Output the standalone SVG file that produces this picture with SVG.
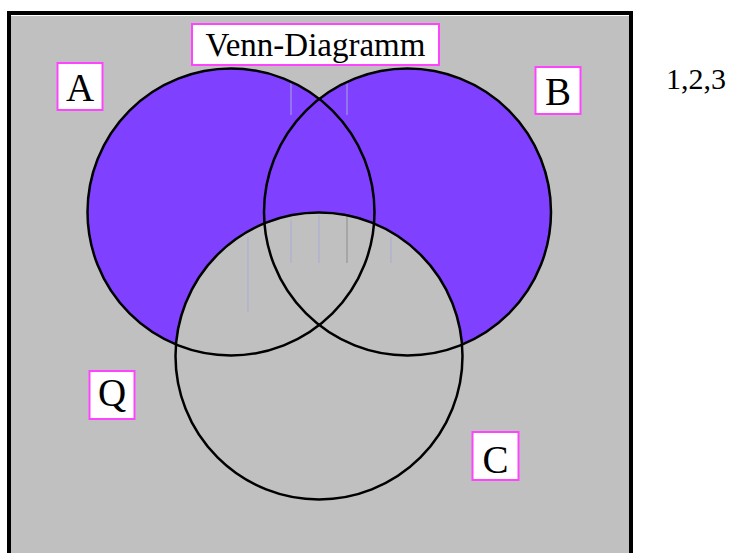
<svg xmlns="http://www.w3.org/2000/svg" width="731" height="553" viewBox="0 0 731 553">
  <style>
    .set { fill: #8040ff; }
    .ring { fill: none; stroke: #000; stroke-width: 2.5; }
    .label rect { fill: #fff; stroke: #ff44ff; stroke-width: 2; }
    .serif { font-family: "Liberation Serif", "Times New Roman", serif; fill: #000; text-anchor: middle; }
    .tick { stroke: #a9a9d6; stroke-width: 1; }
  </style>

  <!-- page frame -->
  <rect x="0" y="0" width="731" height="553" fill="#fff"/>
  <rect x="7" y="11" width="626" height="560" fill="#000"/>
  <rect x="11" y="15" width="618" height="560" fill="#fff"/>
  <rect x="11" y="16" width="618" height="560" fill="#c0c0c0"/>

  <!-- shaded sets: A and B without C -->
  <g id="fill">
    <circle class="set" cx="231" cy="212" r="143.5"/>
    <circle class="set" cx="407.5" cy="212" r="143.5"/>
    <circle cx="319" cy="356" r="143.5" fill="#c0c0c0"/>
  </g>

  <!-- faint hatching marks -->
  <g id="marks">
    <line class="tick" x1="291" y1="82" x2="291" y2="115"/>
    <line class="tick" x1="347" y1="82" x2="347" y2="115"/>
    <line class="tick" x1="248" y1="237" x2="248" y2="312"/>
    <line class="tick" x1="291" y1="220" x2="291" y2="263"/>
    <line class="tick" x1="319" y1="215" x2="319" y2="263"/>
    <line x1="347" y1="213" x2="347" y2="263" stroke="#8c8c8c" stroke-width="1"/>
    <line class="tick" x1="391" y1="237" x2="391" y2="263"/>
  </g>

  <!-- set outlines -->
  <g id="circle-A"><circle class="ring" cx="231" cy="212" r="143.5"/></g>
  <g id="circle-B"><circle class="ring" cx="407.5" cy="212" r="143.5"/></g>
  <g id="circle-C"><circle class="ring" cx="319" cy="356" r="143.5"/></g>

  <!-- labels -->
  <g id="title" class="label">
    <rect x="192" y="24" width="247" height="41"/>
    <text class="serif" x="315.5" y="56" font-size="33">Venn-Diagramm</text>
  </g>
  <g id="label-A" class="label">
    <rect x="57.5" y="63" width="45" height="47"/>
    <text class="serif" x="80" y="101" font-size="39">A</text>
  </g>
  <g id="label-B" class="label">
    <rect x="535.5" y="67" width="45" height="47"/>
    <text class="serif" x="558" y="105" font-size="39">B</text>
  </g>
  <g id="label-Q" class="label">
    <rect x="89.5" y="371" width="45" height="48"/>
    <text class="serif" x="112" y="406" font-size="39">Q</text>
  </g>
  <g id="label-C" class="label">
    <rect x="472.5" y="432" width="46" height="48"/>
    <text class="serif" x="495.5" y="473" font-size="39">C</text>
  </g>

  <text class="serif" x="696" y="89" font-size="30">1,2,3</text>
</svg>
